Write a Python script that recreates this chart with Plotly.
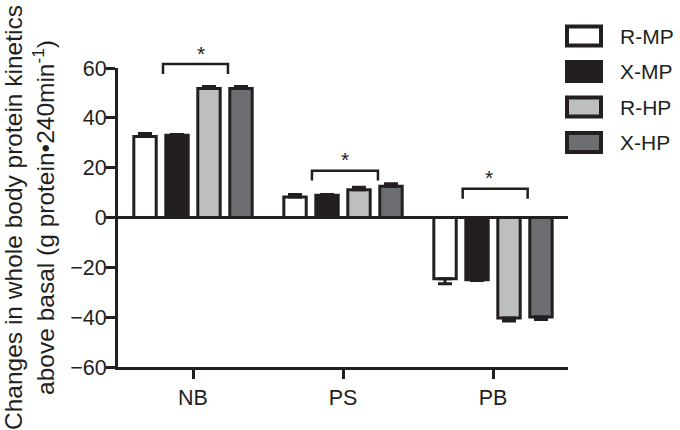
import plotly.graph_objects as go

# categories and groups
categories = ["NB", "PS", "PB"]
groups = ["R-MP", "X-MP", "R-HP", "X-HP"]
colors = ["#ffffff", "#231f20", "#bcbec0", "#6d6e71"]

# mean changes (g protein 240 min-1)
r_mp = [32.5, 8.2, -24.6]
x_mp = [33.0, 8.9, -25.0]
r_hp = [51.8, 11.1, -40.3]
x_hp = [51.8, 12.5, -39.9]

# SEM
r_mp_err = [1.2, 1.0, 2.0]
x_mp_err = [0.3, 0.3, 0.3]
r_hp_err = [0.8, 1.0, 1.2]
x_hp_err = [0.8, 1.0, 1.0]

y_ticks = [-60, -40, -20, 0, 20, 40, 60]
Y_RANGE = [-60, 60]
X_RANGE = [-0.5, 2.5]

INK = "#231f20"
FONT = "Liberation Sans, Arial, sans-serif"

# plot area in pixels
W, H = 680, 430
L, R, T, B = 118, 112, 68, 63


def px_x(px):
    return (px - L) / (W - L - R)


def px_y(py):
    return (H - B - py) / (H - T - B)


# data -> paper (so marks above the axis range are not clipped)
def dx(x):
    return (x - X_RANGE[0]) / (X_RANGE[1] - X_RANGE[0])


def dy(y):
    return (y - Y_RANGE[0]) / (Y_RANGE[1] - Y_RANGE[0])


values = [r_mp, x_mp, r_hp, x_hp]
errors = [r_mp_err, x_mp_err, r_hp_err, x_hp_err]

fig = go.Figure()
for name, color, vals, errs in zip(groups, colors, values, errors):
    up = [e if v > 0 else 0 for v, e in zip(vals, errs)]
    down = [e if v < 0 else 0 for v, e in zip(vals, errs)]
    fig.add_trace(go.Bar(
        x=categories, y=vals, name=name,
        marker=dict(color=color, line=dict(color=INK, width=3)),
        error_y=dict(type="data", symmetric=False, array=up, arrayminus=down,
                     color=INK, thickness=3, width=7),
        showlegend=False,
    ))

# significance brackets: (x0, x1, top, drop)
brackets = [(-0.2, 0.233, 61.6, 4), (0.793, 1.233, 18.8, 4), (1.798, 2.231, 11.5, 4)]
for x0, x1, top, drop in brackets:
    fig.add_shape(type="path", xref="paper", yref="paper",
                  path=(f"M {dx(x0)},{dy(top - drop)} L {dx(x0)},{dy(top)} "
                        f"L {dx(x1)},{dy(top)} L {dx(x1)},{dy(top - drop)}"),
                  line=dict(color=INK, width=2.5))
    fig.add_annotation(x=dx((x0 + x1) / 2), y=dy(top - 1.0), text="*", showarrow=False,
                       xref="paper", yref="paper", yanchor="bottom",
                       font=dict(size=21, color=INK, family=FONT))

# legend drawn by hand to get the large boxes
row_y = [36, 71.5, 107, 142.5]
for name, color, cy in zip(groups, colors, row_y):
    fig.add_shape(type="rect", xref="paper", yref="paper",
                  x0=px_x(567), x1=px_x(601), y0=px_y(cy + 9.5), y1=px_y(cy - 9.5),
                  fillcolor=color, line=dict(color=INK, width=4))
    fig.add_annotation(x=px_x(618), y=px_y(cy), xref="paper", yref="paper",
                       text=name, showarrow=False, xanchor="left", yanchor="middle",
                       font=dict(size=21, color=INK, family=FONT))

fig.update_layout(
    width=W, height=H,
    margin=dict(l=L, r=R, t=T, b=B),
    plot_bgcolor="white", paper_bgcolor="white",
    barmode="group", bargap=0.147, bargroupgap=0.3,
    font=dict(family=FONT, color=INK, size=21),
)
fig.update_xaxes(
    range=X_RANGE, showline=True, linecolor=INK, linewidth=3, automargin=False,
    ticks="outside", ticklen=9, tickwidth=3, tickcolor=INK,
    showgrid=False, tickfont=dict(size=21.5),
)
fig.update_yaxes(
    range=Y_RANGE, tickvals=y_ticks, showline=True, linecolor=INK, linewidth=3,
    automargin=False,
    ticks="outside", ticklen=9, tickwidth=3, tickcolor=INK, ticklabelstandoff=-5,
    showgrid=False, zeroline=True, zerolinecolor=INK, zerolinewidth=3,
    tickfont=dict(size=21.5),
    title=dict(text="Changes in whole body protein kinetics<br>above basal (g protein•240min<sup>-1</sup>)",
               font=dict(size=24.5), standoff=22),
)

# drop the browser's default page margin so the figure sits at 0,0
fig.write_html("out.html", config={"displayModeBar": False},
               post_script="document.body.style.margin='0px';")
